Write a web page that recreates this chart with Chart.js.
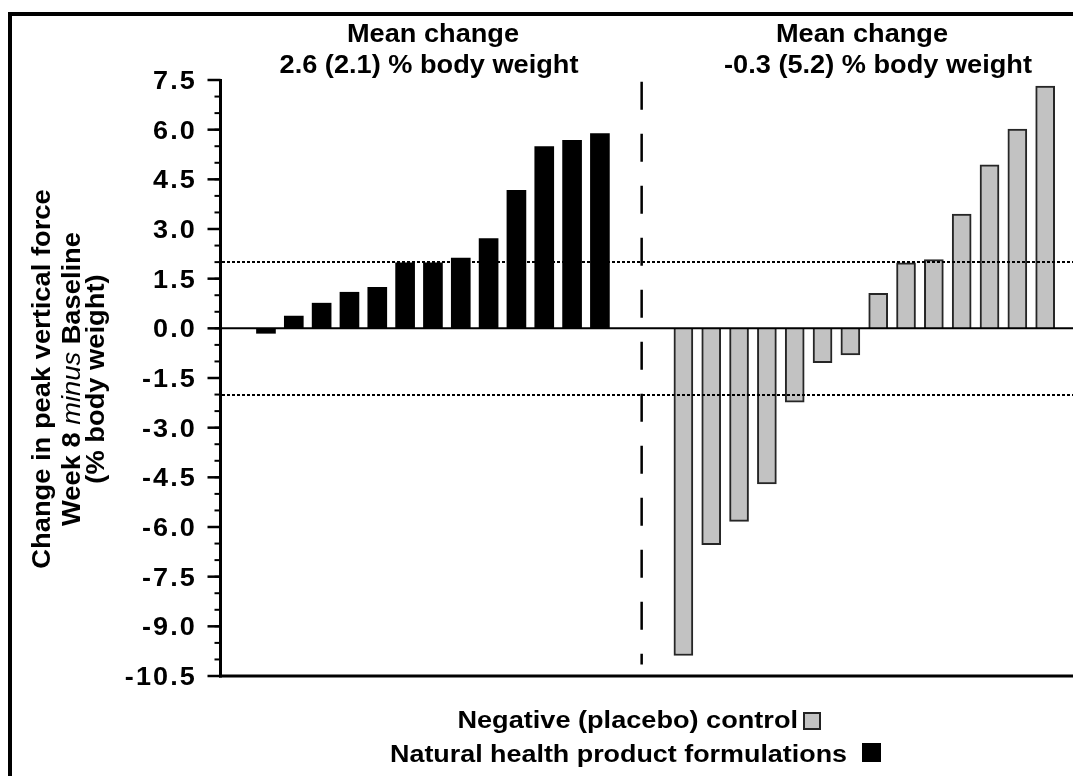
<!DOCTYPE html>
<html><head><meta charset="utf-8">
<script src="https://cdn.jsdelivr.net/npm/chart.js@4.4.1/dist/chart.umd.min.js"></script>
<style>html,body{margin:0;padding:0;background:#fff}#wrap{width:1073px;height:776px;position:relative}</style>
</head><body><div id="wrap"><canvas id="c" width="1073" height="776"></canvas></div>
<script>
// ---- data ----
const nhpValues = [-0.15, 0.37, 0.76, 1.09, 1.24, 1.98, 1.98, 2.12, 2.71, 4.17, 5.49, 5.68, 5.88];
const placeboValues = [-9.88, -6.53, -5.83, -4.70, -2.23, -1.04, -0.80, 1.06, 1.98, 2.08, 3.45, 4.94, 6.02, 7.32];
const yTickLabels = ['7.5','6.0','4.5','3.0','1.5','0.0','-1.5','-3.0','-4.5','-6.0','-7.5','-9.0','-10.5'];
const yMinorStep = 0.5;
const thresholdValues = [2, -2];
const leftTitle = ['Mean change', '2.6 (2.1) % body weight'];
const rightTitle = ['Mean change', '-0.3 (5.2) % body weight'];
const yTitleLine1 = 'Change in peak vertical force';
const yTitleLine2 = [['Week 8 ', 'n'], ['minus', 'i'], [' Baseline', 'n']];
const yTitleLine3 = '(% body weight)';
const legendLabels = ['Negative (placebo) control', 'Natural health product formulations'];

const placeboStart = nhpValues.length + 2;
const dividerX = nhpValues.length + 0.5;
const yMin = parseFloat(yTickLabels[yTickLabels.length - 1]);
const yMax = parseFloat(yTickLabels[0]);

const FF = '"Liberation Sans", Arial, Helvetica, sans-serif';
const GRAY = '#c2c2c2';

// draw text with optional horizontal stretch (sx) and letter spacing (ls)
function txt(ctx, s, x, y, font, align, ls, sx) {
  sx = sx || 1;
  ctx.save();
  ctx.font = font;
  try { ctx.letterSpacing = (ls || 0) + 'px'; } catch (e) {}
  ctx.textAlign = align || 'left';
  ctx.textBaseline = 'alphabetic';
  ctx.fillStyle = '#000';
  ctx.translate(x, y);
  ctx.scale(sx, 1);
  ctx.fillText(s, 0, 0);
  ctx.restore();
}

const deco = {
  id: 'deco',
  afterDatasetsDraw(chart) {
    const ctx = chart.ctx;
    const ys = chart.scales.y, xs = chart.scales.x;
    const ca = chart.chartArea;
    ctx.save();
    ctx.strokeStyle = '#000';
    // threshold dotted lines
    ctx.lineWidth = 2;
    ctx.setLineDash([3, 2]);
    thresholdValues.forEach(v => {
      const py = Math.round(ys.getPixelForValue(v));
      ctx.beginPath(); ctx.moveTo(ca.left, py); ctx.lineTo(ca.right, py); ctx.stroke();
    });
    // divider dashed vertical
    ctx.setLineDash([28, 24]);
    ctx.lineWidth = 2.5;
    const dx = xs.getPixelForValue(dividerX);
    ctx.beginPath();
    ctx.moveTo(dx, ys.getPixelForValue(yMax - 0.05));
    ctx.lineTo(dx, ys.getPixelForValue(-10.15));
    ctx.stroke();
    ctx.setLineDash([]);
    // zero line
    ctx.lineWidth = 2;
    const z = ys.getPixelForValue(0);
    ctx.beginPath(); ctx.moveTo(ca.left, z); ctx.lineTo(ca.right, z); ctx.stroke();
    // bottom axis line
    ctx.lineWidth = 3;
    const b = ys.getPixelForValue(yMin);
    ctx.beginPath(); ctx.moveTo(ca.left - 3, b); ctx.lineTo(ca.right, b); ctx.stroke();
    // y axis line
    const ax = ca.left - 1.5;
    ctx.beginPath(); ctx.moveTo(ax, ys.getPixelForValue(yMax) - 1); ctx.lineTo(ax, b + 1.5); ctx.stroke();
    // minor ticks
    ctx.lineWidth = 2;
    for (let v = yMin; v <= yMax + 1e-9; v += yMinorStep) {
      const py = ys.getPixelForValue(v);
      ctx.beginPath(); ctx.moveTo(ax - 6, py); ctx.lineTo(ax, py); ctx.stroke();
    }
    // major ticks + labels
    ctx.lineWidth = 2.5;
    yTickLabels.forEach(l => {
      const py = ys.getPixelForValue(parseFloat(l));
      ctx.beginPath(); ctx.moveTo(ax - 13, py); ctx.lineTo(ax, py); ctx.stroke();
      txt(ctx, l, 197, py + 9, 'bold 25.5px ' + FF, 'right', 2, 1.06);
    });
    ctx.restore();

    // group titles
    const tf = 'bold 26px ' + FF;
    const TS = 1.045;
    txt(ctx, leftTitle[0], 433, 42, tf, 'center', 0, TS);
    txt(ctx, leftTitle[1], 429, 73, tf, 'center', 0, TS);
    txt(ctx, rightTitle[0], 862, 42, tf, 'center', 0, TS);
    txt(ctx, rightTitle[1], 878, 73, tf, 'center', 0, TS);

    // y axis title (rotated)
    const cy = 379;
    ctx.save();
    ctx.translate(49.5, cy); ctx.rotate(-Math.PI / 2);
    txt(ctx, yTitleLine1, 0, 0, tf, 'center', 0, 1.05);
    ctx.restore();
    ctx.save();
    ctx.translate(80, cy); ctx.rotate(-Math.PI / 2);
    const fonts = { n: 'bold 26px ' + FF, i: 'italic 26px ' + FF };
    let total = 0;
    const widths = yTitleLine2.map(([s, f]) => {
      ctx.font = fonts[f];
      try { ctx.letterSpacing = '0px'; } catch (e) {}
      const w = ctx.measureText(s).width * 1.05; total += w; return w;
    });
    let x0 = -total / 2;
    yTitleLine2.forEach(([s, f], i) => { txt(ctx, s, x0, 0, fonts[f], 'left', 0, 1.05); x0 += widths[i]; });
    ctx.restore();
    ctx.save();
    ctx.translate(104, cy); ctx.rotate(-Math.PI / 2);
    txt(ctx, yTitleLine3, 0, 0, tf, 'center', 0, 1.05);
    ctx.restore();

    // legend
    const lf = 'bold 24px ' + FF;
    txt(ctx, legendLabels[0], 798, 728, lf, 'right', 0, 1.13);
    ctx.save();
    ctx.fillStyle = GRAY; ctx.fillRect(804, 713, 16, 16);
    ctx.strokeStyle = '#222'; ctx.lineWidth = 2; ctx.strokeRect(804, 713, 16, 16);
    ctx.restore();
    txt(ctx, legendLabels[1], 847, 762, lf, 'right', 0, 1.12);
    ctx.save();
    ctx.fillStyle = '#000'; ctx.fillRect(862, 743, 19, 19);
    ctx.restore();

    // frame borders (top & left)
    ctx.save();
    ctx.fillStyle = '#000';
    ctx.fillRect(8, 12, 1073 - 8, 4);
    ctx.fillRect(8, 12, 4, 776 - 12);
    ctx.restore();
  }
};

new Chart(document.getElementById('c').getContext('2d'), {
  type: 'bar',
  data: {
    datasets: [
      { label: legendLabels[1], data: nhpValues.map((v, i) => ({ x: i, y: v })),
        backgroundColor: '#000', borderWidth: 0, barThickness: 19, grouped: false },
      { label: legendLabels[0], data: placeboValues.map((v, i) => ({ x: placeboStart + i, y: v })),
        backgroundColor: GRAY, borderColor: '#262626', borderWidth: 2, barThickness: 19, grouped: false }
    ]
  },
  options: {
    responsive: false,
    devicePixelRatio: 1,
    animation: false,
    layout: { padding: { left: 222, right: 0, top: 80, bottom: 100 } },
    plugins: { legend: { display: false }, tooltip: { enabled: false } },
    scales: {
      x: { type: 'linear', display: false, offset: false, min: -1.58, max: 29 },
      y: { display: false, min: yMin, max: yMax }
    }
  },
  plugins: [deco]
});
</script></body></html>
